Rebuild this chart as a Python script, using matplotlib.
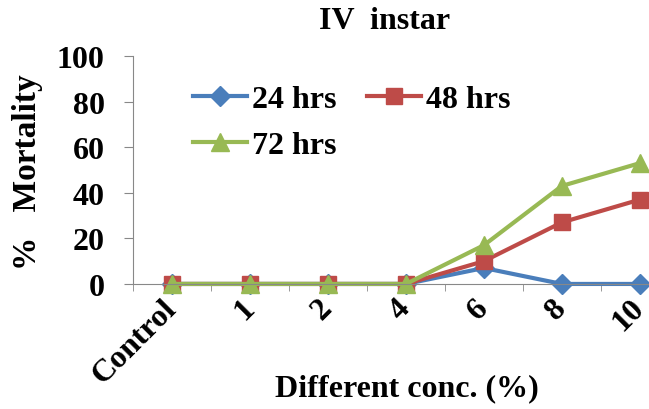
import numpy as np
import matplotlib
matplotlib.use("Agg")
import matplotlib.pyplot as plt

# data
categories = ["Control", "1", "2", "4", "6", "8", "10"]
hrs_24 = [0, 0, 0, 0, 7, 0, 0]
hrs_48 = [0, 0, 0, 0, 10, 27, 37]
hrs_72 = [0, 0, 0, 0, 17, 43, 53]

plt.rcParams["font.family"] = ["Liberation Serif", "DejaVu Serif"]
plt.rcParams["font.weight"] = "bold"

fig = plt.figure(figsize=(6.49, 4.10), dpi=100)
ax = fig.add_axes([0.205, 0.305, 0.841, 0.556])

x = np.arange(len(categories))
l24, = ax.plot(x, hrs_24, color="#4A7EBB", marker="D", markersize=10, lw=3, label="24 hrs", clip_on=False)
l48, = ax.plot(x, hrs_48, color="#BE4B48", marker="s", markersize=11, lw=3, label="48 hrs", clip_on=False)
l72, = ax.plot(x, hrs_72, color="#98B954", marker="^", markersize=13, lw=3, label="72 hrs", clip_on=False)

ax.set_xlim(-0.5, len(categories) - 0.5)
ax.set_ylim(0, 100)
ax.set_yticks(range(0, 101, 20))
ax.set_xticks(x)
ax.set_xticklabels(categories, rotation=45, ha="right", va="center", rotation_mode="anchor")
ax.set_xticks(np.arange(-0.5, len(categories)), minor=True)
ax.tick_params(axis="x", which="major", length=0, pad=14, labelsize=23)
ax.tick_params(axis="x", which="minor", length=5, color="#888888", direction="out")
ax.tick_params(axis="y", length=6.5, color="#888888", labelsize=23, pad=14)

for s in ["top", "right"]:
    ax.spines[s].set_visible(False)
for s in ["left", "bottom"]:
    ax.spines[s].set_color("#888888")

# row-wise order: 24, 48 on top row, 72 below
ax.legend([l24, l72, l48], ["24 hrs", "72 hrs", "48 hrs"], ncol=2, loc="upper left",
          bbox_to_anchor=(0.297, 0.79), bbox_transform=fig.transFigure, frameon=False,
          fontsize=23, handlelength=1.7, handletextpad=0.15, columnspacing=0.95,
          labelspacing=0.5, borderpad=0, borderaxespad=0)

fig.text(0.592, 0.948, "IV  instar", ha="center", va="center", fontsize=23, fontweight="bold")
fig.text(0.043, 0.58, "%   Mortality", rotation=90, ha="center", va="center", fontsize=24, fontweight="bold")
fig.text(0.627, 0.052, "Different conc. (%)", ha="center", va="center", fontsize=23, fontweight="bold")

fig.savefig("out.png", dpi=100)
